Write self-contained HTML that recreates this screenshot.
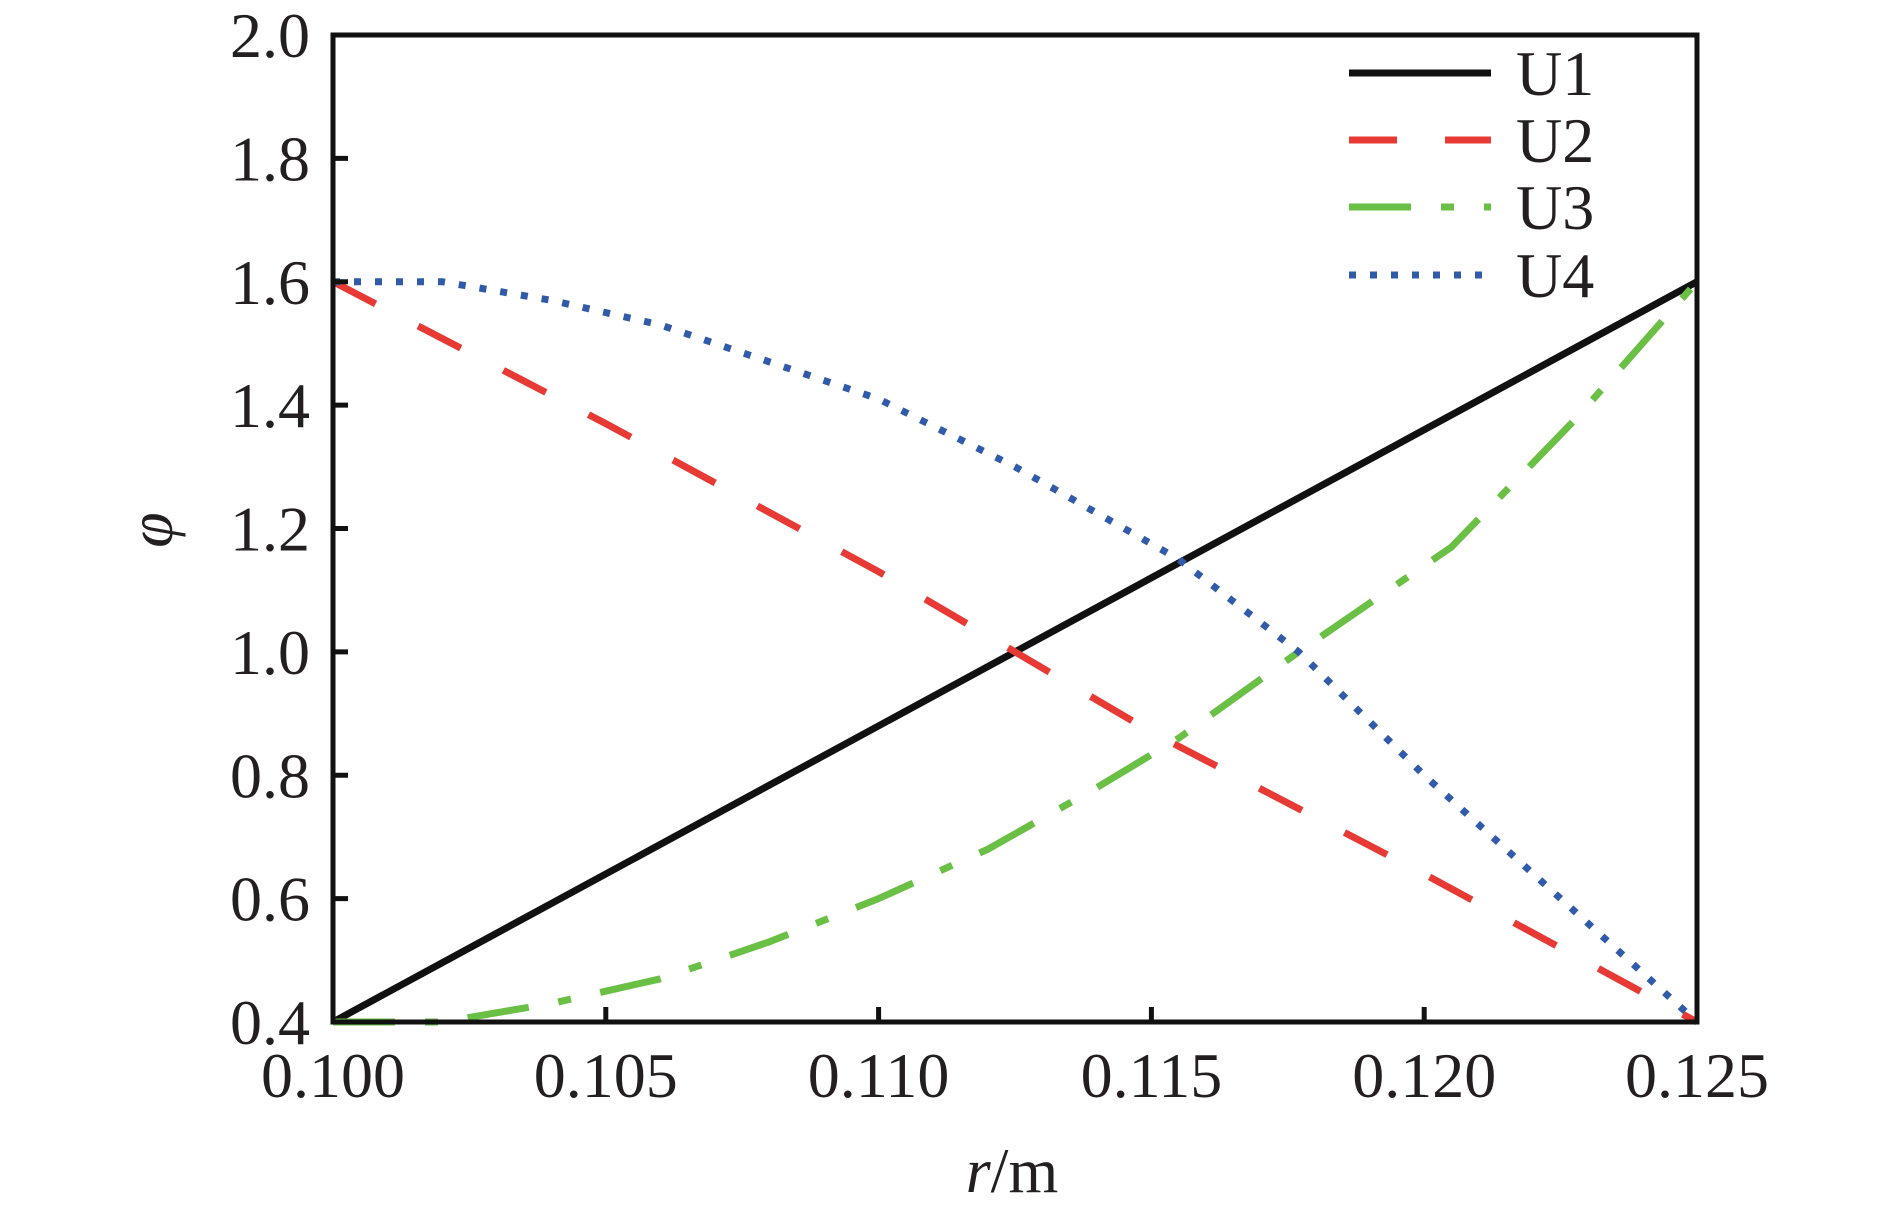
<!DOCTYPE html>
<html><head><meta charset="utf-8"><style>
html,body{margin:0;padding:0;background:#fff}
svg text{font-family:"Liberation Serif",serif;fill:#231f20}
</style></head><body>
<svg width="1890" height="1211" viewBox="0 0 1890 1211" xmlns="http://www.w3.org/2000/svg">
<g id="plot"></g>
</svg>
<script>
const xTicks=[0.100,0.105,0.110,0.115,0.120,0.125];
const xTickLabels=["0.100","0.105","0.110","0.115","0.120","0.125"];
const yTicks=[0.4,0.6,0.8,1.0,1.2,1.4,1.6,1.8,2.0];
const yTickLabels=["0.4","0.6","0.8","1.0","1.2","1.4","1.6","1.8","2.0"];
const seriesNames=["U1","U2","U3","U4"];
const u1X=[0.100,0.125];
const u1Y=[0.4,1.6];
const u2X=[0.100,0.105,0.110,0.1125,0.115,0.120,0.125];
const u2Y=[1.6,1.37,1.13,1.0,0.87,0.64,0.4];
const u3X=[0.100,0.102,0.104,0.106,0.108,0.110,0.112,0.114,0.1155,0.1177,0.1205,0.1228,0.125];
const u3Y=[0.4,0.4,0.43,0.47,0.53,0.6,0.68,0.78,0.86,1.0,1.17,1.38,1.6];
const u4X=[0.100,0.102,0.104,0.106,0.108,0.110,0.1125,0.1155,0.1177,0.120,0.1225,0.125];
const u4Y=[1.6,1.6,1.57,1.53,1.47,1.41,1.3,1.15,1.0,0.8,0.6,0.4];

const L=333,R=1697,T=35,B=1022;
const sx=v=>L+(v-0.100)/(0.125-0.100)*(R-L);
const sy=v=>B-(v-0.4)/(2.0-0.4)*(B-T);
const NS="http://www.w3.org/2000/svg";
const g=document.getElementById('plot');
function mk(tag,attrs,parent){const e=document.createElementNS(NS,tag);for(const k in attrs)e.setAttribute(k,attrs[k]);(parent||g).appendChild(e);return e;}

const styles=[
 {c:"#111",d:""},
 {c:"#e83a35",d:"48 48"},
 {c:"#6abf45",d:"62 30 13 30"},
 {c:"#2f5ba8",d:"7 14"}
];
const xs=[u1X,u2X,u3X,u4X], ys=[u1Y,u2Y,u3Y,u4Y];
for(let i=0;i<4;i++){
 let d="";
 for(let j=0;j<xs[i].length;j++){d+=(j?"L":"M")+sx(xs[i][j]).toFixed(1)+" "+sy(ys[i][j]).toFixed(1);}
 const p=mk('path',{d:d,fill:"none",stroke:styles[i].c,"stroke-width":7,"stroke-dasharray":styles[i].d,"stroke-linejoin":"round"});
 
 
}
const fr=mk('rect',{x:L,y:T,width:R-L,height:B-T,fill:"none",stroke:"#111","stroke-width":5});


for(let i=0;i<yTicks.length;i++){
 const y=sy(yTicks[i]);
 const t=mk('line',{x1:L,x2:L+15,y1:y,y2:y,stroke:"#111","stroke-width":5});
 
 
 const tx=mk('text',{x:310,y:y+22,"text-anchor":"end","font-size":64});
 tx.textContent=yTickLabels[i];
 
 
}
for(let i=0;i<xTicks.length;i++){
 const x=sx(xTicks[i]);
 const t=mk('line',{x1:x,x2:x,y1:B,y2:B-15,stroke:"#111","stroke-width":5});
 
 
 const tx=mk('text',{x:x,y:1097,"text-anchor":"middle","font-size":64});
 tx.textContent=xTickLabels[i];
 
 
}
const xt=mk('text',{x:1012,y:1192,"text-anchor":"middle","font-size":64});
xt.innerHTML='<tspan font-style="italic">r</tspan>/m';


const yt=mk('text',{x:172,y:530,"text-anchor":"middle","font-size":64,"font-style":"italic",transform:"rotate(-90 172 530)"});
yt.textContent='φ';


const ly=[73,140,207,275];
for(let i=0;i<4;i++){
 const ln=mk('line',{x1:1349,x2:1491,y1:ly[i],y2:ly[i],stroke:styles[i].c,"stroke-width":7,"stroke-dasharray":styles[i].d});
 
 
 const tx=mk('text',{x:1516,y:ly[i]+22,"font-size":64});
 tx.textContent=seriesNames[i];
 
 
}
</script>
</body></html>
